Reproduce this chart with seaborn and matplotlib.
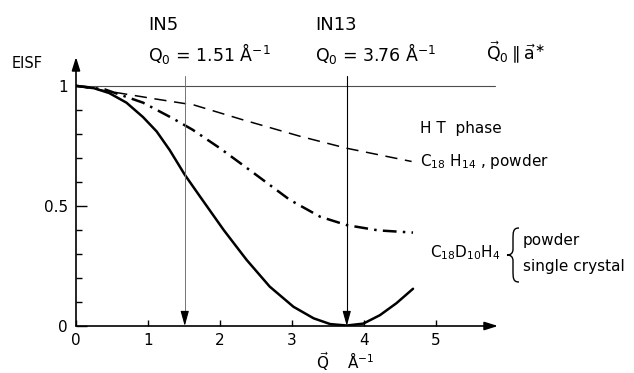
import numpy as np
import pandas as pd
import matplotlib
matplotlib.use("Agg")
import matplotlib.pyplot as plt
from matplotlib.path import Path
from matplotlib.patches import PathPatch
import seaborn as sns

# ---- data ----
q_solid = [0, 0.25, 0.46, 0.7, 0.93, 1.12, 1.30, 1.51, 1.72, 2.05, 2.28, 2.37,
           2.69, 3.02, 3.30, 3.53, 3.76, 3.99, 4.22, 4.45, 4.68]
eisf_solid = [1.0, 0.99, 0.97, 0.93, 0.87, 0.81, 0.733, 0.63, 0.54, 0.40, 0.31,
              0.275, 0.164, 0.08, 0.032, 0.008, 0.002, 0.01, 0.045, 0.095, 0.155]

q_dashdot = [0, 0.4, 0.93, 1.34, 1.62, 2.0, 2.44, 2.97, 3.39, 3.76, 4.2, 4.68]
eisf_dashdot = [1.0, 0.985, 0.93, 0.865, 0.817, 0.74, 0.643, 0.525, 0.455, 0.42,
                0.398, 0.389]

q_dashed = [0, 0.6, 1.11, 1.64, 2.3, 3.11, 3.76, 4.66]
eisf_dashed = [1.0, 0.97, 0.945, 0.92, 0.86, 0.79, 0.74, 0.685]

q0_values = [1.51, 3.76]
x_ticks = [0, 1, 2, 3, 4, 5]
x_tick_labels = ["0", "1", "2", "3", "4", "5"]
y_ticks = [0, 0.5, 1]
y_tick_labels = ["0", "0.5", "1"]

# ---- figure ----
sns.set_style("white")
plt.rcParams["font.family"] = ["DejaVu Sans"]
plt.rcParams["mathtext.fontset"] = "dejavusans"
plt.rcParams["text.color"] = "black"
plt.rcParams["xtick.color"] = "black"
plt.rcParams["ytick.color"] = "black"

W, H = 634, 373
fig = plt.figure(figsize=(W / 100, H / 100), dpi=100)
ax = fig.add_axes([76 / W, 1 - 326 / H, (498 - 76) / W, (326 - 57) / H])
ax.set_xlim(0, 5.86)
ax.set_ylim(0, 1.12)

df_s = pd.DataFrame({"Q": q_solid, "EISF": eisf_solid})
df_d = pd.DataFrame({"Q": q_dashdot, "EISF": eisf_dashdot})
df_h = pd.DataFrame({"Q": q_dashed, "EISF": eisf_dashed})

sns.lineplot(data=df_s, x="Q", y="EISF", ax=ax, color="black", lw=1.8,
             sort=False, estimator=None)
ax.lines[-1].set_solid_joinstyle("round")
sns.lineplot(data=df_d, x="Q", y="EISF", ax=ax, color="black", lw=1.8,
             sort=False, estimator=None)
ax.lines[-1].set_dashes((5.5, 2.5, 1, 2.5))
sns.lineplot(data=df_h, x="Q", y="EISF", ax=ax, color="black", lw=1.1,
             sort=False, estimator=None)
ax.lines[-1].set_dashes((8, 5))

# reference line at EISF = 1
ax.plot([0, 5.82], [1, 1], color="0.3", lw=0.8, zorder=1)

# Q0 arrows
styles = [dict(color="0.45", lw=0.7), dict(color="black", lw=0.8)]
for q0, st in zip(q0_values, styles):
    ax.plot([q0, q0], [1.04, 0.05], color=st["color"], lw=st["lw"], zorder=2,
            clip_on=False)
    ax.annotate("", xy=(q0, 0.0), xytext=(q0, 0.06),
                arrowprops=dict(arrowstyle="-|>,head_length=0.9,head_width=0.25",
                                color="black", lw=0.8, shrinkA=0, shrinkB=0),
                annotation_clip=False)

# axes with arrows
for s in ax.spines.values():
    s.set_visible(False)
ax.annotate("", xy=(5.86, 0), xytext=(0, 0),
            arrowprops=dict(arrowstyle="-|>,head_length=0.8,head_width=0.25",
                            color="black", lw=1.2, shrinkA=0, shrinkB=0),
            annotation_clip=False)
ax.annotate("", xy=(0, 1.12), xytext=(0, 0),
            arrowprops=dict(arrowstyle="-|>,head_length=0.8,head_width=0.25",
                            color="black", lw=1.2, shrinkA=0, shrinkB=0),
            annotation_clip=False)

ax.set_xticks(x_ticks)
ax.set_xticklabels(x_tick_labels)
ax.set_yticks(y_ticks)
ax.set_yticklabels(y_tick_labels)
ax.set_yticks(np.arange(1, 10) / 10, minor=True)
ax.tick_params(axis="x", which="major", direction="in", length=4, width=1,
               labelsize=11, pad=5, bottom=True)
ax.tick_params(axis="y", which="major", direction="in", length=8, width=1,
               labelsize=11, pad=6, left=True)
ax.tick_params(axis="y", which="minor", direction="in", length=4, width=1,
               left=True)
ax.set_xlabel("")
ax.set_ylabel("")
ax.grid(False)

def ftext(px, py, s, size, **kw):
    fig.text(px / W, 1 - py / H, s, fontsize=size, ha=kw.pop("ha", "left"),
             va=kw.pop("va", "center"), **kw)

hdr = 12.5
ftext(12, 64, "EISF", 10.5)
ftext(148, 25, "IN5", hdr + 0.5)
ftext(148, 53, "Q$_0$ = 1.51 Å$^{-1}$", hdr)
ftext(315, 25, "IN13", hdr + 0.5)
ftext(315, 53, "Q$_0$ = 3.76 Å$^{-1}$", hdr)
ftext(486, 53, r"$\vec{\mathrm{Q}}_0 \parallel \vec{\mathrm{a}}^{\ast}$", hdr)
ftext(345, 362, r"$\vec{\mathrm{Q}}$    Å$^{-1}$", 11, ha="center")

ftext(420, 128, "H T  phase", 11)
ftext(420, 161, "C$_{18}$ H$_{14}$ , powder", 11)
ftext(430, 253, "C$_{18}$D$_{10}$H$_4$", 11)
ftext(523, 240, "powder", 11)
ftext(523, 266, "single crystal", 11)

# brace
pts = [(519, 228), (513, 228), (513, 232), (513, 240), (513, 249),
       (513, 253), (511, 255), (507, 255), (511, 255), (513, 257), (513, 261),
       (513, 270), (513, 278), (513, 282), (519, 282)]
codes = [Path.MOVETO, Path.CURVE4, Path.CURVE4, Path.CURVE4, Path.LINETO,
         Path.CURVE4, Path.CURVE4, Path.CURVE4, Path.CURVE4, Path.CURVE4,
         Path.CURVE4, Path.LINETO, Path.CURVE4, Path.CURVE4, Path.CURVE4]
verts = [(x / W, 1 - y / H) for x, y in pts]
fig.add_artist(PathPatch(Path(verts, codes), transform=fig.transFigure,
                         fill=False, lw=1.0, color="black"))

fig.savefig("out.png", dpi=100)
